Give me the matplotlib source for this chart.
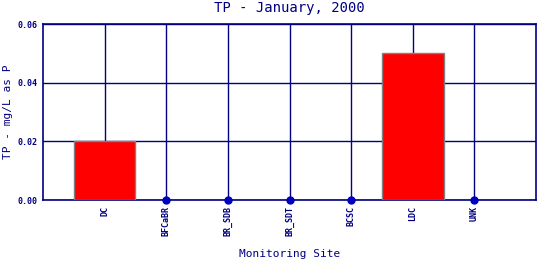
import matplotlib
matplotlib.use("Agg")
import matplotlib.pyplot as plt
import numpy as np

sites = ["DC", "BFCaBR", "BR_SDB", "BR_SDT", "BCSC", "LDC", "UNK"]
tp = [0.02, 0.0, 0.0, 0.0, 0.0, 0.05, 0.0]
yticks = [0.00, 0.02, 0.04, 0.06]

navy = "#000080"
fig = plt.figure(figsize=(5.4, 2.6), dpi=100)
ax = fig.add_axes([43/540, 1-200/260, 493/540, 176/260])

x = np.arange(len(sites))
vals = np.array(tp)
nz = vals > 0
ax.bar(x[nz], vals[nz], width=1.0, color="red", edgecolor="gray", linewidth=1, zorder=3)
ax.plot(x[~nz], vals[~nz], "o", color="#0000c0", markersize=5, zorder=4, clip_on=False)

ax.set_xlim(-1, len(sites))
ax.set_ylim(0, 0.06)
ax.set_xticks(x)
ax.set_xticklabels(sites, rotation=90, fontsize=6, family="DejaVu Sans Mono",
                   color=navy, fontweight="bold")
ax.set_yticks(yticks)
ax.set_yticklabels(["%.2f" % v for v in yticks], fontsize=6, family="DejaVu Sans Mono",
                   color=navy, fontweight="bold")
ax.tick_params(length=0, pad=4)
ax.grid(True, color=navy, linewidth=1, zorder=0)
ax.set_axisbelow(True)
for s in ax.spines.values():
    s.set_color(navy)
    s.set_linewidth(1.2)

fig.text(289.5/540, 1-8/260, "TP - January, 2000", ha="center", va="center",
         fontsize=10, color=navy, family="DejaVu Sans Mono")
fig.text(289.5/540, 1-254/260, "Monitoring Site", ha="center", va="center",
         fontsize=8, color=navy, family="DejaVu Sans Mono")
fig.text(8/540, 1-112/260, "TP - mg/L as P", ha="center", va="center", rotation=90,
         fontsize=8, color=navy, family="DejaVu Sans Mono")

fig.savefig("out.png", dpi=100)
